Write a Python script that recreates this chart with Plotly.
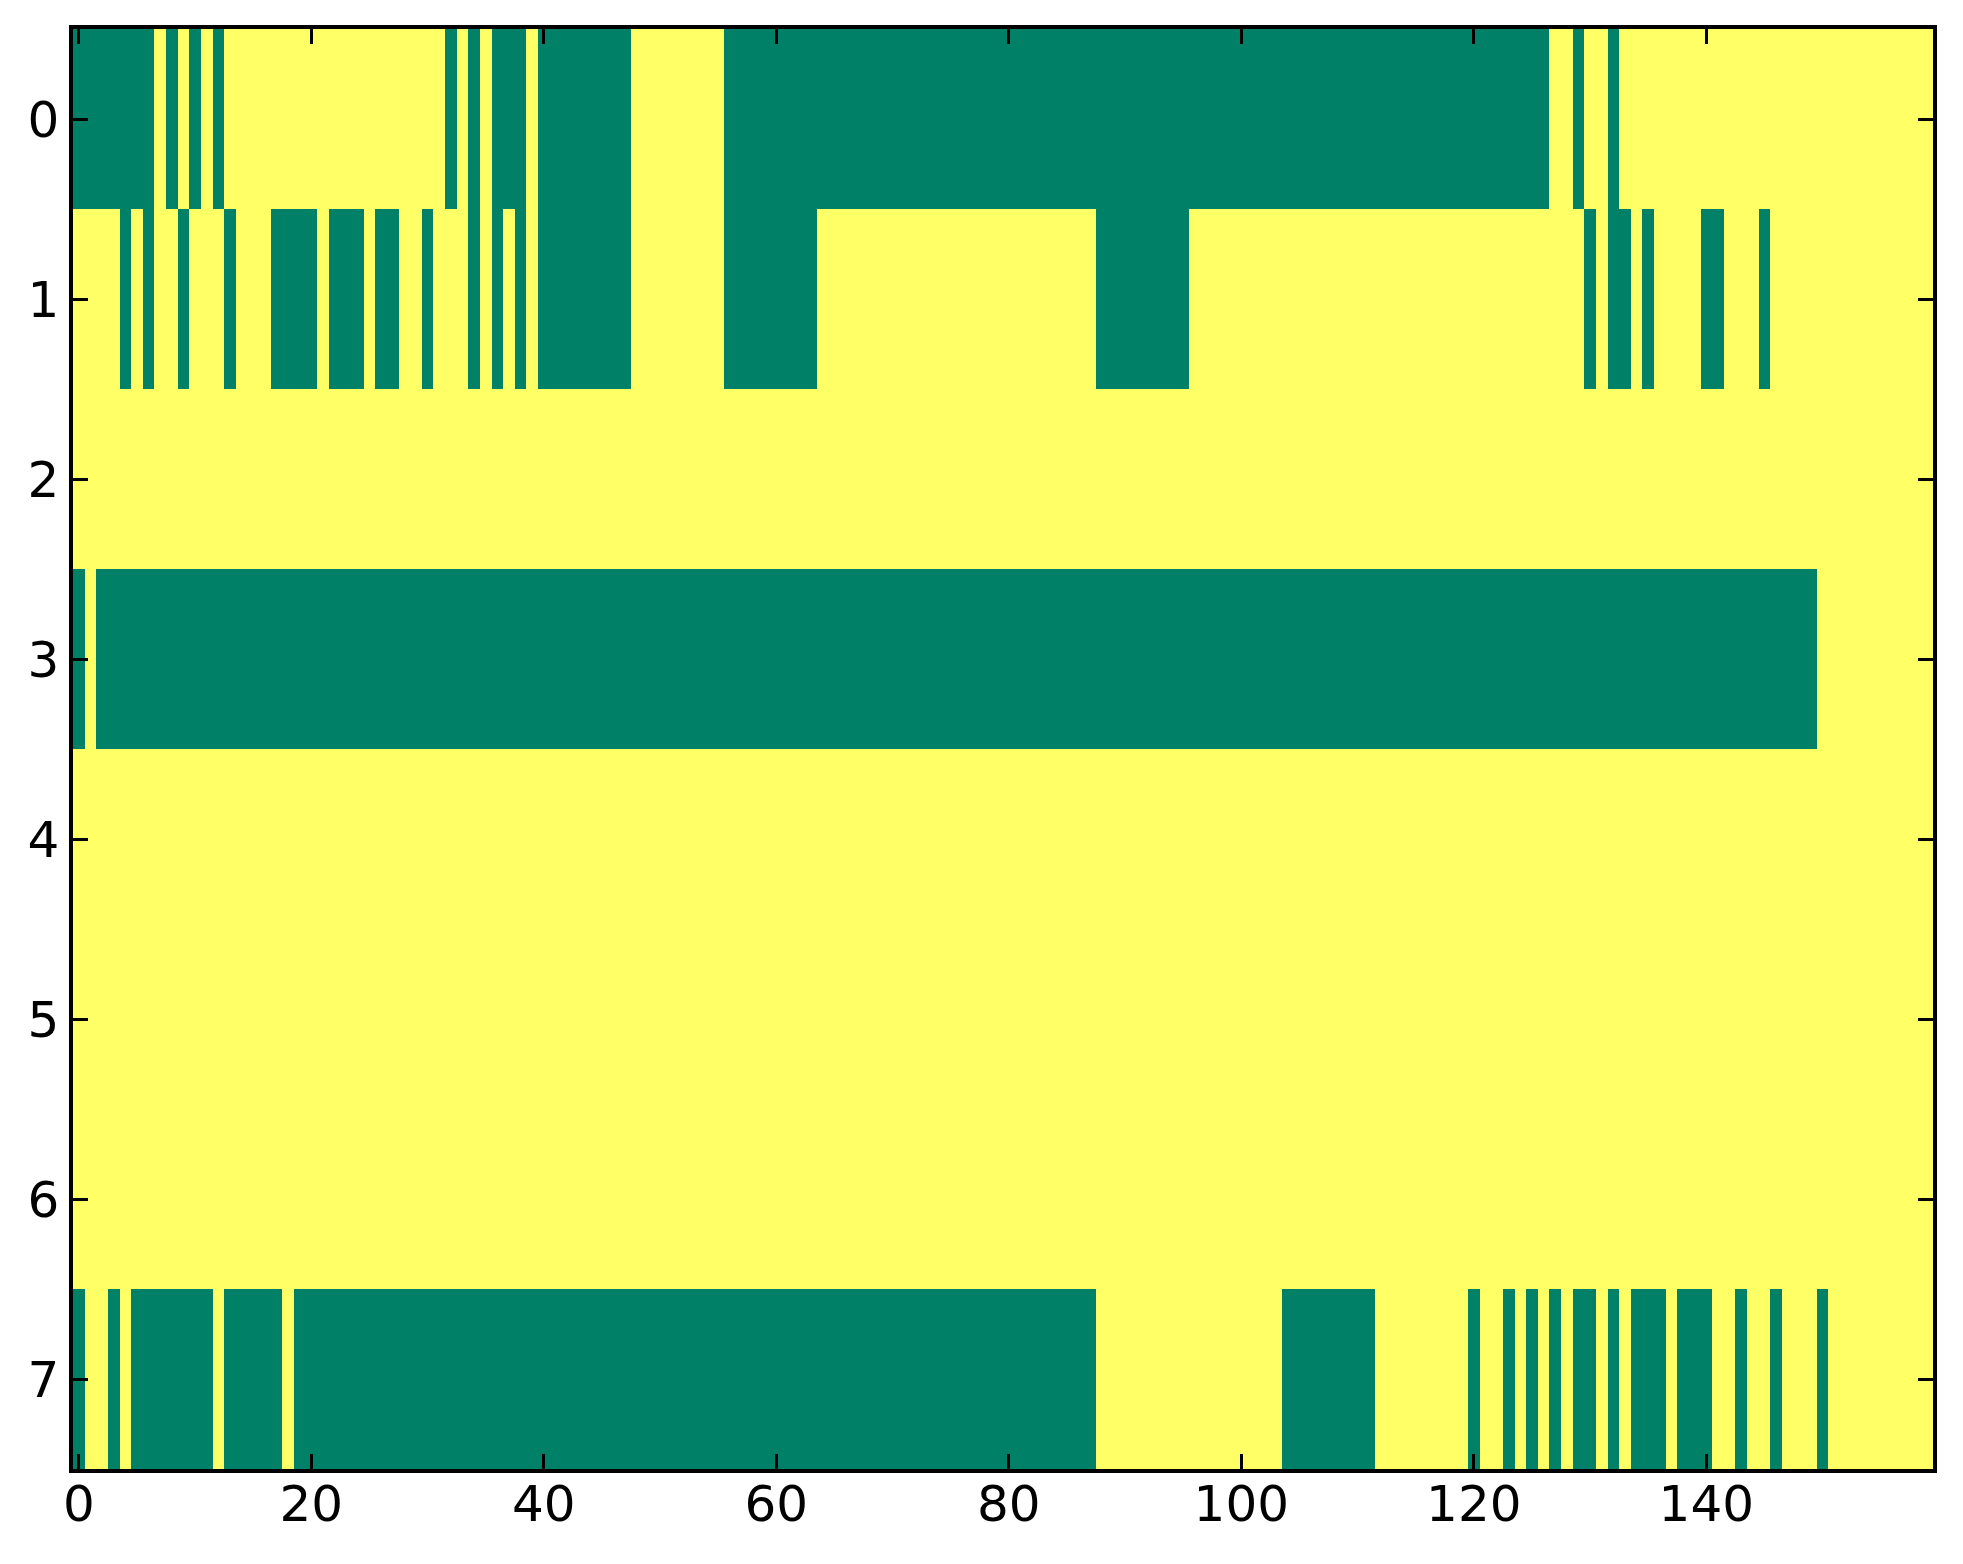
import numpy as np
import plotly.graph_objects as go

# Matriz binaria 8 x 160 (0 = verde, 1 = amarillo)
n_filas = 8
n_cols = 160

# Rangos de columnas (inicio, fin inclusive) con valor 0 en cada fila
ceros_fila0 = [(0, 6), (8, 8), (10, 10), (12, 12), (32, 32), (34, 34), (36, 38),
               (40, 47), (56, 126), (129, 129), (132, 132)]
ceros_fila1 = [(4, 4), (6, 6), (9, 9), (13, 13), (17, 20), (22, 24), (26, 27),
               (30, 30), (34, 34), (36, 36), (38, 38), (40, 47), (56, 63), (88, 95),
               (130, 130), (132, 133), (135, 135), (140, 141), (145, 145)]
ceros_fila2 = []
ceros_fila3 = [(0, 0), (2, 149)]
ceros_fila4 = []
ceros_fila5 = []
ceros_fila6 = []
ceros_fila7 = [(0, 0), (3, 3), (5, 11), (13, 17), (19, 87), (104, 111), (120, 120),
               (123, 123), (125, 125), (127, 127), (129, 130), (132, 132), (134, 136),
               (138, 140), (143, 143), (146, 146), (150, 150)]

ceros = [ceros_fila0, ceros_fila1, ceros_fila2, ceros_fila3,
         ceros_fila4, ceros_fila5, ceros_fila6, ceros_fila7]

z = np.ones((n_filas, n_cols))
for i, rangos in enumerate(ceros):
    for a, b in rangos:
        z[i, a:b + 1] = 0

fig = go.Figure(go.Heatmap(
    z=z,
    x=np.arange(n_cols),
    y=np.arange(n_filas),
    colorscale=[[0, '#008066'], [1, '#ffff66']],  # mapa "summer"
    zmin=0, zmax=1,
    showscale=False,
    hoverinfo='skip'
))

ejes = dict(
    showline=True, linewidth=3.5, linecolor='black', mirror='allticks',
    ticks='inside', ticklen=15, tickwidth=3, tickcolor='black',
    showgrid=False, zeroline=False,
    tickfont=dict(family='DejaVu Sans', size=50, color='black')
)

# el body de la pagina agrega 8 px arriba y a la izquierda
fig.update_layout(
    width=1963, height=1564,
    margin=dict(l=65, r=38, t=21, b=103),
    paper_bgcolor='white', plot_bgcolor='white'
)
fig.update_xaxes(range=[-0.5, 159.5], tickmode='linear', tick0=0, dtick=20,
                 ticklabelstandoff=-12, **ejes)
fig.update_yaxes(range=[7.5, -0.5], tickmode='linear', tick0=0, dtick=1, **ejes)

fig.write_html("out.html")
